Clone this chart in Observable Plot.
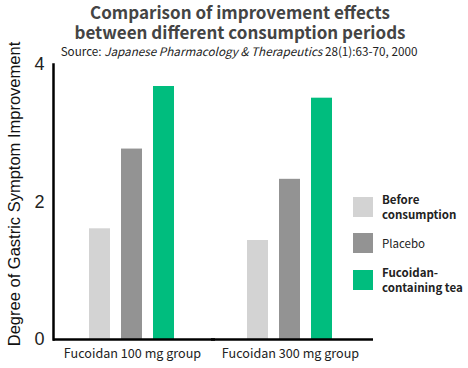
<!DOCTYPE html>
<html><head><meta charset="utf-8">
<script src="https://cdn.jsdelivr.net/npm/d3@7"></script>
<script src="https://cdn.jsdelivr.net/npm/@observablehq/plot@0.6"></script>
<style>
body{margin:0;background:#fff;}
#wrap{position:relative;width:468px;height:368px;font-family:"Noto Sans CJK JP","Noto Sans",sans-serif;color:#222;}
.title{position:absolute;left:0;width:480px;text-align:center;font-size:17px;font-weight:bold;line-height:20px;height:20px;color:#444;}
#sub{position:absolute;left:0;top:43px;width:478px;text-align:center;font-size:11.7px;line-height:16px;color:#222;}
#legend{position:absolute;left:353px;top:192px;font-size:11.5px;line-height:15px;}
.item{position:absolute;left:0;width:120px;}
.sw{position:absolute;left:0;width:20px;height:20px;}
.lab{position:absolute;left:29px;white-space:nowrap;}
#chart{position:absolute;left:0;top:0;}
#ylab{position:absolute;left:14px;top:194px;transform:translate(-50%,-50%) rotate(-90deg);white-space:nowrap;font-family:"Liberation Sans",Arial,sans-serif;font-size:16.5px;line-height:18px;color:#111;}
</style></head>
<body><div id="wrap"><div id="chart"></div>
<div class="title" style="top:2px">Comparison of improvement effects</div>
<div class="title" style="top:22px">between different consumption periods</div>
<div id="sub">Source: <i>Japanese Pharmacology &amp; Therapeutics</i> 28(1):63-70, 2000</div>
<div id="ylab"></div>
<div id="legend"></div>
</div>
<script>
const groups = ["Fucoidan 100 mg group", "Fucoidan 300 mg group"];
const series = ["Before consumption", "Placebo", "Fucoidan-containing tea"];
const legendLines = [["Before", "consumption"], ["Placebo"], ["Fucoidan-", "containing tea"]];
const legendBold = [true, false, true];
const beforeVals = [1.61, 1.44];
const placeboVals = [2.77, 2.33];
const teaVals = [3.68, 3.51];
const colors = ["#d3d3d3", "#939393", "#00bd7e"];
const yTicks = [0, 2, 4];
const yLabel = "Degree of Gastric Symptom Improvement";

const valuesBySeries = [beforeVals, placeboVals, teaVals];
const data = groups.flatMap((g, i) => series.map((s, j) => ({group: g, series: s, value: valuesBySeries[j][i]})));

const plot = Plot.plot({
  width: 468, height: 368,
  marginTop: 64, marginBottom: 29, marginLeft: 52, marginRight: 99,
  style: {fontFamily: "Noto Sans CJK JP", background: "transparent", color: "#222"},
  fx: {domain: groups, padding: 0, label: null},
  x: {domain: series, paddingInner: 1/3, paddingOuter: 1.068, axis: null},
  y: {domain: [0, 4]},
  color: {domain: series, range: colors},
  marks: [
    Plot.barY(data, {fx: "group", x: "series", y: "value", fill: "series"}),
    Plot.ruleY([0], {stroke: "#000", strokeWidth: 2.5, insetRight: -4}),
    Plot.frame({anchor: "left", facetAnchor: "left", stroke: "#000", strokeWidth: 2.5}),
    Plot.axisY({ticks: yTicks, tickSize: 0, tickPadding: 9, fontSize: 18, fontFamily: "Liberation Sans", label: null, tickFormat: d => String(d)}),
    Plot.axisFx({anchor: "bottom", tickSize: 0, tickPadding: 10, fontSize: 12.6, label: null})
  ]
});
document.getElementById("chart").appendChild(plot);
document.getElementById("ylab").textContent = yLabel;

const legend = document.getElementById("legend");
const rowTops = [5, 41, 78];
series.forEach((s, i) => {
  const item = document.createElement("div");
  item.className = "item";
  item.style.top = "0px";
  const sw = document.createElement("div");
  sw.className = "sw";
  sw.style.background = colors[i];
  sw.style.top = rowTops[i] + "px";
  const lab = document.createElement("div");
  lab.className = "lab";
  const n = legendLines[i].length;
  lab.style.top = (rowTops[i] + 10 - n * 7.5) + "px";
  lab.style.fontWeight = legendBold[i] ? "bold" : "normal";
  lab.innerHTML = legendLines[i].join("<br>");
  item.appendChild(sw); item.appendChild(lab);
  legend.appendChild(item);
});
</script>
</body></html>
